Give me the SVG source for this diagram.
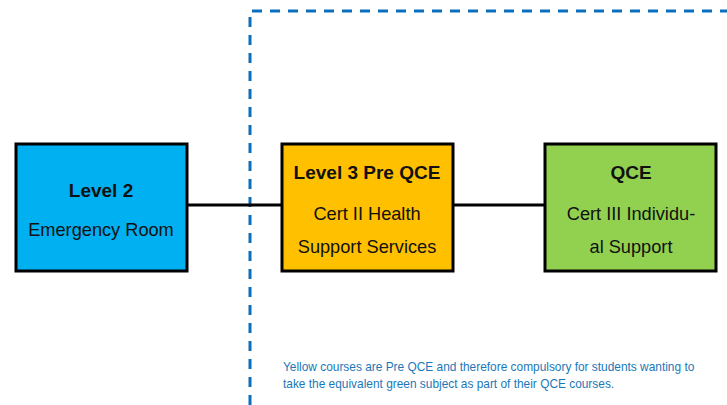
<svg xmlns="http://www.w3.org/2000/svg" width="727" height="405" viewBox="0 0 727 405">
<style>
.box{stroke:#000;stroke-width:3}
.t{font-family:"Liberation Sans",Arial,sans-serif;fill:#111;text-anchor:middle}
.b{font-weight:bold;font-size:19px}
.n{font-size:18.2px}
.note{font-family:"Liberation Sans",Arial,sans-serif;font-size:11.9px;fill:#1a78b8}
</style>
<rect width="727" height="405" fill="#fff"/>
<g id="region">
<path d="M250,405 V11 H727" fill="none" stroke="#0a70bd" stroke-width="3" stroke-dasharray="10,8"/>
</g>
<g id="connectors" stroke="#000" stroke-width="3">
<line x1="187" y1="205" x2="282" y2="205"/>
<line x1="453" y1="205" x2="545" y2="205"/>
</g>
<g id="level2">
<rect class="box" x="16" y="144" width="171" height="127" fill="#00b0f0"/>
<text class="t b" x="101" y="197">Level 2</text>
<text class="t n" x="101" y="236">Emergency Room</text>
</g>
<g id="level3">
<rect class="box" x="282" y="144" width="171" height="127" fill="#ffc000"/>
<text class="t b" x="367" y="179">Level 3 Pre QCE</text>
<text class="t n" x="367" y="220">Cert II Health</text>
<text class="t n" x="367" y="253">Support Services</text>
</g>
<g id="qce">
<rect class="box" x="545" y="144" width="171" height="127" fill="#92d050"/>
<text class="t b" x="631" y="179">QCE</text>
<text class="t n" x="631" y="220">Cert III Individu-</text>
<text class="t n" x="631" y="253">al Support</text>
</g>
<g id="note">
<text class="note" x="283" y="371">Yellow courses are Pre QCE and therefore compulsory for students wanting to</text>
<text class="note" x="283" y="388">take the equivalent green subject as part of their QCE courses.</text>
</g>
</svg>
